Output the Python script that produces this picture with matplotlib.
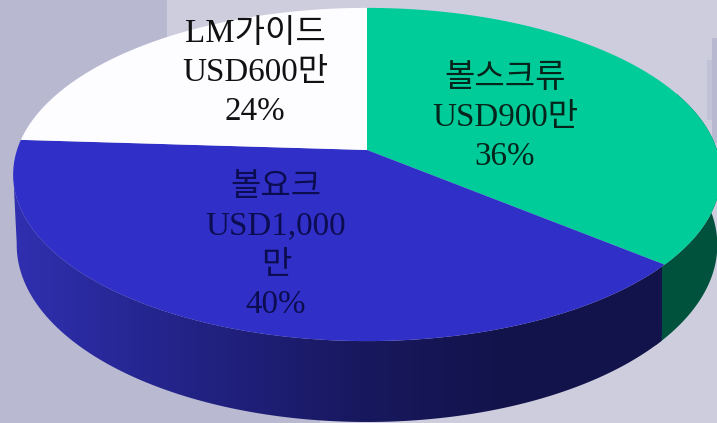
import numpy as np
import matplotlib
matplotlib.use('Agg')
import matplotlib.pyplot as plt
from matplotlib.colors import LinearSegmentedColormap
from matplotlib.patches import Polygon, Rectangle

plt.rcParams['font.family'] = ['Liberation Serif', 'Noto Sans CJK KR', 'DejaVu Sans']

# Sales split, in USD 10k, clockwise from 12 o'clock
names = ['볼스크류', '볼요크', 'LM가이드']
amounts = ['USD900만', 'USD1,000\n만', 'USD600만']
shares = [36, 40, 24]
top_colors = ['#00cc99', '#3030c8', '#fdfdff']
wall_colors = ['#00523c', '#14144c', '#fdfdff']
text_colors = ['#04241c', '#0c0c50', '#111111']
label_pos = [(505, 118), (276, 246), (255, 73)]

# Pie geometry in pixels, with a perspective tilt
cx, cy = 367, 150
A, B, k = 350, 163, 0.147
depth = 69
bottom_shrink = 0.99


def project(theta, r=1.0, drop=False):
    x = r * np.sin(theta)
    y = r * np.cos(theta)
    den = 1 + k * y
    if drop:
        return cx + bottom_shrink * A * x / den, cy - (B * y - depth) / den
    return cx + A * x / den, cy - B * y / den


def rim(t0, t1, drop=False):
    theta = np.linspace(t0, t1, 200)
    return np.column_stack(project(theta, drop=drop))


fig = plt.figure(figsize=(7.17, 4.23), dpi=100)
ax = fig.add_axes([0, 0, 1, 1])
ax.set_facecolor('#cdcdde')

# Background panels
ax.add_patch(Rectangle((0, 0), 167, 423, color='#b8b8d0', lw=0))
ax.add_patch(Rectangle((0, 300), 320, 123, color='#b9b9d1', lw=0))
ax.add_patch(Rectangle((707, 60), 10, 60, color='#c2c2d6', lw=0))
ax.add_patch(Rectangle((712, 38), 5, 105, color='#b8b8d0', lw=0))

edges = np.cumsum([0] + shares) / sum(shares) * 2 * np.pi

# Side wall: green flat, blue shaded left to right
green_end = edges[1] + 0.03
green_wall = np.vstack([rim(edges[0] + 1.2, green_end), rim(green_end, edges[0] + 1.2, drop=True)])
ax.add_patch(Polygon(green_wall, color=wall_colors[0], lw=0, zorder=2))

blue_wall = np.vstack([rim(edges[1], edges[2] - 0.2), rim(edges[2] - 0.2, edges[1], drop=True)])
shade_x = [13, 150, 360, 500, 662]
shade_c = ['#3030b0', '#25258f', '#18185f', '#13134c', '#14144c']
shade = LinearSegmentedColormap.from_list(
    'wall', [((x - shade_x[0]) / (shade_x[-1] - shade_x[0]), c) for x, c in zip(shade_x, shade_c)])
img = ax.imshow(np.linspace(0, 1, 400)[None, :], cmap=shade, aspect='auto',
                extent=(shade_x[0], shade_x[-1], 423, 100), zorder=3)
blue_patch = Polygon(blue_wall, transform=ax.transData, fc='none', lw=0)
ax.add_patch(blue_patch)
img.set_clip_path(blue_patch)

# Top face
for i in range(3):
    theta = np.linspace(edges[i], edges[i + 1], 300)
    px, py = project(theta)
    ax.fill(np.r_[cx, px], np.r_[cy, py], color=top_colors[i], lw=0, zorder=4)

for i in range(3):
    label = f'{names[i]}\n{amounts[i]}\n{shares[i]}%'
    ax.text(label_pos[i][0], label_pos[i][1], label, ha='center', va='center', fontsize=23.8,
            color=text_colors[i], linespacing=1.36, zorder=5)

ax.set_xlim(0, 717)
ax.set_ylim(423, 0)
ax.axis('off')
fig.patch.set_facecolor('#cdcdde')
ax.patch.set_visible(False)
fig.savefig('out.png', dpi=100)
